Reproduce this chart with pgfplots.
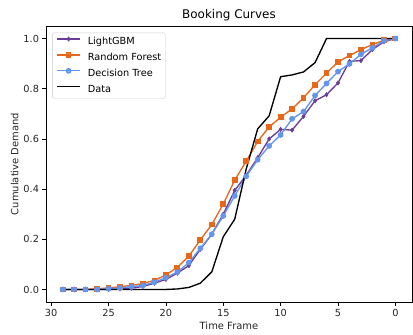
\documentclass[border=0pt]{standalone}
\usepackage{pgfplots}
\pgfplotsset{compat=1.18}
\usepackage{fontspec}
\setmainfont{DejaVu Sans}
\usetikzlibrary{calc}
\definecolor{cLGB}{HTML}{6A3D9A}
\definecolor{cRF}{HTML}{E8681A}
\definecolor{cDT}{HTML}{6495ED}
\begin{document}
\begin{tikzpicture}
\begin{pgfinterruptboundingbox}
\begin{axis}[
  name=ax,
  scale only axis,
  width=366bp, height=276bp,
  x dir=reverse,
  xmin=-1.45, xmax=30.45,
  ymin=-0.05, ymax=1.05,
  xtick={0,5,10,15,20,25,30},
  ytick={0,0.2,0.4,0.6,0.8,1.0},
  yticklabel style={/pgf/number format/.cd,fixed,fixed zerofill,precision=1},
  /pgf/number format/assume math mode=true,
  tick align=outside,
  major tick length=3.5bp,
  xtick pos=bottom, ytick pos=left,
  tick style={black, line width=0.6pt},
  axis line style={black, line width=0.6pt},
  ticklabel style={font=\fontsize{9.8}{11}\selectfont, text=black!85},
  xlabel={Time Frame}, ylabel={Cumulative Demand},
  label style={font=\fontsize{10}{11}\selectfont, text=black!85},
  xlabel style={yshift=1bp},
  ylabel style={yshift=-2bp},
  title={Booking Curves},
  title style={font=\fontsize{12}{13}\selectfont, yshift=-4bp},
  legend style={at={(0.017,0.976)}, anchor=north west, font=\fontsize{9.8}{11}\selectfont,
    draw=black!20, fill=white, fill opacity=0.8, text opacity=1, rounded corners=2pt,
    nodes={inner sep=0pt, text height=7.6bp, text depth=2.4bp},
    row sep=5.7bp, inner xsep=4bp, inner ysep=4bp, column sep=0bp},
  legend cell align=left,
  legend image code/.code={\draw[#1] (0bp,3bp) -- (23bp,3bp); \draw[#1, only marks] plot coordinates {(11.5bp,3bp)};},
  every axis plot/.append style={line width=1.35pt},
]
\addplot[color=cLGB, mark=diamond*, mark size=2.2bp, mark options={solid, line width=0.5pt}] coordinates {
(29,0) (28,0) (27,0) (26,0) (25,0) (24,0.002) (23,0.005) (22,0.012) (21,0.025) (20,0.04)
(19,0.065) (18,0.095) (17,0.16) (16,0.22) (15,0.30) (14,0.395) (13,0.455) (12,0.525)
(11,0.60) (10,0.638) (9,0.635) (8,0.69) (7,0.752) (6,0.776) (5,0.823) (4,0.909) (3,0.912)
(2,0.956) (1,0.987) (0,1.0)};
\addlegendentry{\hspace{7bp}LightGBM}
\addplot[color=cRF, mark=square*, mark size=2.2bp, mark options={solid}] coordinates {
(29,0) (28,0) (27,0) (26,0.003) (25,0.006) (24,0.011) (23,0.016) (22,0.024) (21,0.036) (20,0.058)
(19,0.088) (18,0.133) (17,0.197) (16,0.259) (15,0.34) (14,0.436) (13,0.511) (12,0.590)
(11,0.648) (10,0.686) (9,0.72) (8,0.764) (7,0.816) (6,0.862) (5,0.907) (4,0.932) (3,0.956)
(2,0.976) (1,0.993) (0,1.0)};
\addlegendentry{\hspace{7bp}Random Forest}
\addplot[color=cDT, mark=*, mark size=2.2bp, mark options={solid}] coordinates {
(29,0) (28,0) (27,0) (26,0) (25,0.003) (24,0.006) (23,0.011) (22,0.016) (21,0.029) (20,0.047)
(19,0.069) (18,0.107) (17,0.164) (16,0.22) (15,0.293) (14,0.373) (13,0.451) (12,0.517)
(11,0.572) (10,0.616) (9,0.68) (8,0.709) (7,0.773) (6,0.821) (5,0.868) (4,0.899) (3,0.937)
(2,0.963) (1,0.991) (0,1.0)};
\addlegendentry{\hspace{7bp}Decision Tree}
\addplot[color=black, no marks] coordinates {
(29,0) (28,0) (27,0) (26,0) (25,0) (24,0) (23,0) (22,0) (21,0) (20,0)
(19,0.002) (18,0.008) (17,0.025) (16,0.07) (15,0.21) (14,0.28) (13,0.48) (12,0.64)
(11,0.692) (10,0.848) (9,0.855) (8,0.867) (7,0.904) (6,1.0) (5,1.0) (4,1.0) (3,1.0)
(2,1.0) (1,1.0) (0,1.0)};
\addlegendentry{\hspace{7bp}Data}
\end{axis}
\end{pgfinterruptboundingbox}
\path[use as bounding box] ($(ax.south west)+(-46bp,-33bp)$) rectangle ($(ax.north east)+(1bp,26bp)$);
\end{tikzpicture}
\end{document}
